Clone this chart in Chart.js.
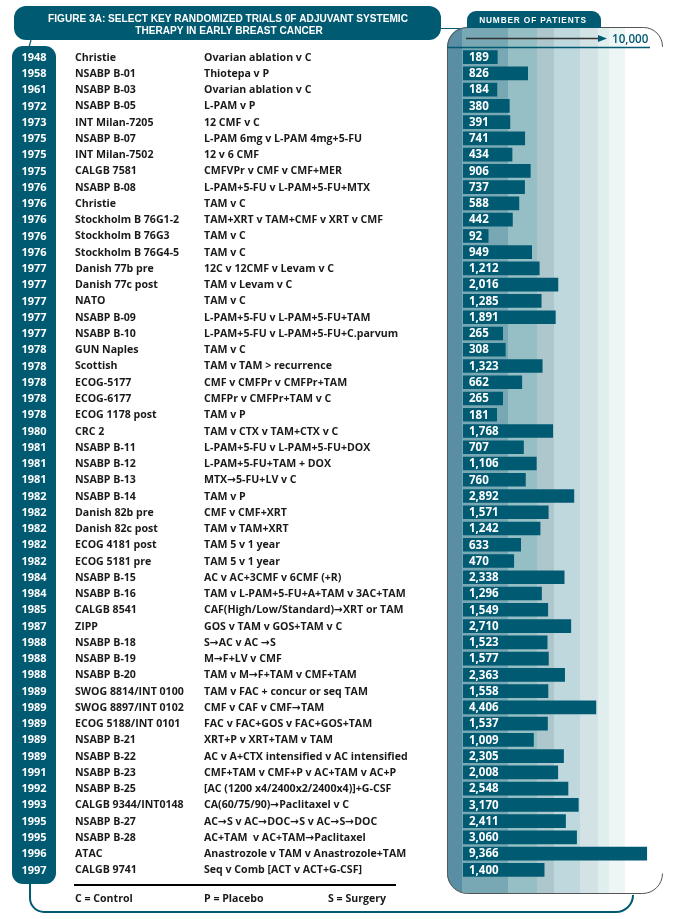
<!DOCTYPE html>
<html>
<head>
<meta charset="utf-8">
<script src="https://cdn.jsdelivr.net/npm/chart.js@4"></script>
<style>
  html, body { margin: 0; padding: 0; background: #fff; }
  canvas { display: block; }
</style>
</head>
<body>
<canvas id="trials-chart" width="678" height="919"></canvas>
<script>
// Dati
const years = ['1948','1958','1961','1972','1973','1975','1975','1975','1976','1976','1976','1976','1976',
  '1977','1977','1977','1977','1977','1978','1978','1978','1978','1978','1980','1981','1981','1981',
  '1982','1982','1982','1982','1982','1984','1984','1985','1987','1988','1988','1988','1989','1989',
  '1989','1989','1989','1991','1992','1993','1995','1995','1996','1997'];

const trials = ['Christie','NSABP B-01','NSABP B-03','NSABP B-05','INT Milan-7205','NSABP B-07',
  'INT Milan-7502','CALGB 7581','NSABP B-08','Christie','Stockholm B 76G1-2','Stockholm B 76G3',
  'Stockholm B 76G4-5','Danish 77b pre','Danish 77c post','NATO','NSABP B-09','NSABP B-10',
  'GUN Naples','Scottish','ECOG-5177','ECOG-6177','ECOG 1178 post','CRC 2','NSABP B-11',
  'NSABP B-12','NSABP B-13','NSABP B-14','Danish 82b pre','Danish 82c post','ECOG 4181 post',
  'ECOG 5181 pre','NSABP B-15','NSABP B-16','CALGB 8541','ZIPP','NSABP B-18','NSABP B-19',
  'NSABP B-20','SWOG 8814/INT 0100','SWOG 8897/INT 0102','ECOG 5188/INT 0101','NSABP B-21',
  'NSABP B-22','NSABP B-23','NSABP B-25','CALGB 9344/INT0148','NSABP B-27','NSABP B-28',
  'ATAC','CALGB 9741'];

const treatments = ['Ovarian ablation v C','Thiotepa v P','Ovarian ablation v C','L-PAM v P',
  '12 CMF v C','L-PAM 6mg v L-PAM 4mg+5-FU','12 v 6 CMF','CMFVPr v CMF v CMF+MER',
  'L-PAM+5-FU v L-PAM+5-FU+MTX','TAM v C','TAM+XRT v TAM+CMF v XRT v CMF','TAM v C','TAM v C',
  '12C v 12CMF v Levam v C','TAM v Levam v C','TAM v C','L-PAM+5-FU v L-PAM+5-FU+TAM',
  'L-PAM+5-FU v L-PAM+5-FU+C.parvum','TAM v C','TAM v TAM > recurrence','CMF v CMFPr v CMFPr+TAM',
  'CMFPr v CMFPr+TAM v C','TAM v P','TAM v CTX v TAM+CTX v C','L-PAM+5-FU v L-PAM+5-FU+DOX',
  'L-PAM+5-FU+TAM + DOX','MTX\u21925-FU+LV v C','TAM v P','CMF v CMF+XRT','TAM v TAM+XRT',
  'TAM 5 v 1 year','TAM 5 v 1 year','AC v AC+3CMF v 6CMF (+R)','TAM v L-PAM+5-FU+A+TAM v 3AC+TAM',
  'CAF(High/Low/Standard)\u2192XRT or TAM','GOS v TAM v GOS+TAM v C','S\u2192AC v AC \u2192S',
  'M\u2192F+LV v CMF','TAM v M\u2192F+TAM v CMF+TAM','TAM v FAC + concur or seq TAM',
  'CMF v CAF v CMF\u2192TAM','FAC v FAC+GOS v FAC+GOS+TAM','XRT+P v XRT+TAM v TAM',
  'AC v A+CTX intensified v AC intensified','CMF+TAM v CMF+P v AC+TAM v AC+P',
  '[AC (1200 x4/2400x2/2400x4)]+G-CSF','CA(60/75/90)\u2192Paclitaxel v C',
  'AC\u2192S v AC\u2192DOC\u2192S v AC\u2192S\u2192DOC','AC+TAM  v AC+TAM\u2192Paclitaxel',
  'Anastrozole v TAM v Anastrozole+TAM','Seq v Comb [ACT v ACT+G-CSF]'];

const patients = [189, 826, 184, 380, 391, 741, 434, 906, 737, 588, 442, 92, 949,
  1212, 2016, 1285, 1891, 265, 308, 1323, 662, 265, 181, 1768, 707, 1106, 760,
  2892, 1571, 1242, 633, 470, 2338, 1296, 1549, 2710, 1523, 1577, 2363, 1558, 4406,
  1537, 1009, 2305, 2008, 2548, 3170, 2411, 3060, 9366, 1400];

const titleLines = ['FIGURE 3A: SELECT KEY RANDOMIZED TRIALS 0F ADJUVANT SYSTEMIC',
  'THERAPY IN EARLY BREAST CANCER'];
const headerLabel = 'NUMBER OF PATIENTS';
const axisMax = 10000;
const legendItems = ['C = Control', 'P = Placebo', 'S = Surgery'];

// Colori e font
const TEAL = '#005a72';
const TEXT = '#1a1a1a';
const ROW_FONT = 'bold 10.6px "Open Sans", "DejaVu Sans", sans-serif';
const BANDS = [
  [447, 462, '#5a8ea4'], [462, 508, '#78a8b4'], [508, 537, '#95bfc5'], [537, 554, '#adc7cc'],
  [554, 580, '#bed8dd'], [580, 598, '#d3e2e5'], [598, 609, '#e0efed'], [609, 625, '#edf6f4']
];
const EXP = 0.43;

// Scala a potenza (le barre del riferimento non sono lineari)
class PowerScale extends Chart.LinearScale {
  getPixelForValue(value) {
    const v = Math.max(value, 0);
    return this.getPixelForDecimal(Math.pow(v / this.max, EXP));
  }
  getValueForPixel(pixel) {
    return this.max * Math.pow(this.getDecimalForPixel(pixel), 1 / EXP);
  }
}
PowerScale.id = 'power';
PowerScale.defaults = Chart.LinearScale.defaults;
Chart.register(PowerScale);

function formatNumber(n) {
  return n.toLocaleString('en-US');
}

// Sfondo, cornici, intestazioni
function drawBackground(ctx) {
  ctx.save();
  ctx.fillStyle = '#fff';
  ctx.fillRect(0, 0, 678, 919);

  // riquadro titolo
  ctx.fillStyle = TEAL;
  ctx.beginPath();
  ctx.roundRect(14, 6, 427, 34, 12);
  ctx.fill();
  ctx.fillStyle = '#fff';
  ctx.font = 'bold 10.1px "Liberation Sans", Arial, sans-serif';
  ctx.textAlign = 'center';
  ctx.textBaseline = 'middle';
  ctx.fillText(titleLines[0], 228, 19.5);
  ctx.fillText(titleLines[1], 229, 31.5);

  // linee di collegamento
  ctx.strokeStyle = TEAL;
  ctx.lineWidth = 1.2;
  ctx.beginPath();
  ctx.moveTo(441, 28.5); ctx.lineTo(468, 28.5);
  ctx.moveTo(31, 40); ctx.lineTo(29, 47);
  ctx.stroke();

  // colonna degli anni
  ctx.fillStyle = TEAL;
  ctx.beginPath();
  ctx.roundRect(12, 46, 44, 838, 11);
  ctx.fill();

  // linea in basso
  ctx.lineWidth = 2;
  ctx.beginPath();
  ctx.moveTo(30, 884);
  ctx.lineTo(30, 898);
  ctx.arcTo(30, 912, 46, 912, 14);
  ctx.lineTo(616, 912);
  ctx.arcTo(633, 912, 633, 894, 17);
  ctx.stroke();

  // bande del riquadro numerico
  ctx.save();
  ctx.beginPath();
  ctx.roundRect(447, 27, 215, 866, 20);
  ctx.clip();
  BANDS.forEach(([x0, x1, c]) => {
    ctx.fillStyle = c;
    ctx.fillRect(x0, 27, x1 - x0, 866);
  });
  ctx.restore();

  // contorno del riquadro (senza lato destro)
  ctx.strokeStyle = '#555';
  ctx.lineWidth = 1;
  ctx.beginPath();
  ctx.moveTo(662.5, 46);
  ctx.arcTo(662.5, 27.5, 642, 27.5, 19);
  ctx.lineTo(467, 27.5);
  ctx.arcTo(447.5, 27.5, 447.5, 47, 20);
  ctx.lineTo(447.5, 873);
  ctx.arcTo(447.5, 893.5, 467, 893.5, 20);
  ctx.lineTo(640, 893.5);
  ctx.arcTo(662.5, 893.5, 662.5, 872, 20);
  ctx.stroke();

  // linguetta "NUMBER OF PATIENTS"
  ctx.fillStyle = TEAL;
  ctx.beginPath();
  ctx.roundRect(467, 11, 134, 17, [9, 9, 0, 0]);
  ctx.fill();
  ctx.fillStyle = '#fff';
  ctx.font = 'bold 8.3px "Liberation Sans", Arial, sans-serif';
  ctx.letterSpacing = '0.85px';
  ctx.textAlign = 'center';
  ctx.fillText(headerLabel, 533, 20.5);
  ctx.letterSpacing = '0px';

  // freccia fino a 10.000
  ctx.strokeStyle = '#333';
  ctx.lineWidth = 1.3;
  ctx.beginPath();
  ctx.moveTo(466, 38.5); ctx.lineTo(598, 38.5);
  ctx.stroke();
  ctx.fillStyle = TEAL;
  ctx.beginPath();
  ctx.moveTo(598, 35); ctx.lineTo(607, 38.5); ctx.lineTo(598, 42); ctx.closePath();
  ctx.fill();
  ctx.font = '600 11.6px "Open Sans", sans-serif';
  ctx.textAlign = 'left';
  ctx.fillText(formatNumber(axisMax), 612, 39.5);

  // linea dell'asse
  ctx.strokeStyle = TEAL;
  ctx.lineWidth = 1.5;
  ctx.beginPath();
  ctx.moveTo(447, 47.5); ctx.lineTo(650, 47.5);
  ctx.stroke();
  ctx.restore();
}

// Testi delle righe, etichette delle barre, legenda
function drawTexts(chart) {
  const ctx = chart.ctx;
  const yScale = chart.scales.y;
  const xScale = chart.scales.x;
  ctx.save();
  ctx.textBaseline = 'middle';
  trials.forEach((name, i) => {
    const y = yScale.getPixelForValue(i) + 0.5;
    ctx.textAlign = 'center';
    ctx.fillStyle = '#fff';
    ctx.font = 'bold 11px "Open Sans", sans-serif';
    ctx.fillText(years[i], 34, y);
    ctx.textAlign = 'left';
    ctx.fillStyle = TEXT;
    ctx.font = ROW_FONT;
    ctx.fillText(name, 75, y);
    ctx.fillText(treatments[i], 204, y);
    ctx.fillStyle = '#fff';
    ctx.font = 'bold 11.5px "Open Sans", sans-serif';
    ctx.fillText(formatNumber(patients[i]), xScale.left + 6, y);
  });

  // legenda
  ctx.strokeStyle = '#000';
  ctx.lineWidth = 2;
  ctx.beginPath();
  ctx.moveTo(74, 885); ctx.lineTo(396, 885);
  ctx.stroke();
  ctx.fillStyle = TEXT;
  ctx.font = ROW_FONT;
  [75, 204, 328].forEach((x, i) => ctx.fillText(legendItems[i], x, 898.5));
  ctx.restore();
}

const decorPlugin = {
  id: 'decor',
  beforeDraw(chart) { drawBackground(chart.ctx); },
  afterDatasetsDraw(chart) { drawTexts(chart); }
};

// Inizializzazione
const chart = new Chart(document.getElementById('trials-chart').getContext('2d'), {
  type: 'bar',
  data: {
    labels: trials,
    datasets: [{
      data: patients,
      backgroundColor: TEAL,
      barThickness: 13
    }]
  },
  options: {
    indexAxis: 'y',
    responsive: false,
    animation: false,
    devicePixelRatio: 1,
    layout: { padding: { left: 463, right: 26, top: 49, bottom: 41 } },
    scales: {
      x: { type: 'power', min: 0, max: axisMax, display: false },
      y: { type: 'category', display: false, offset: true }
    },
    plugins: {
      legend: { display: false },
      tooltip: { enabled: false }
    }
  },
  plugins: [decorPlugin]
});
</script>
</body>
</html>
